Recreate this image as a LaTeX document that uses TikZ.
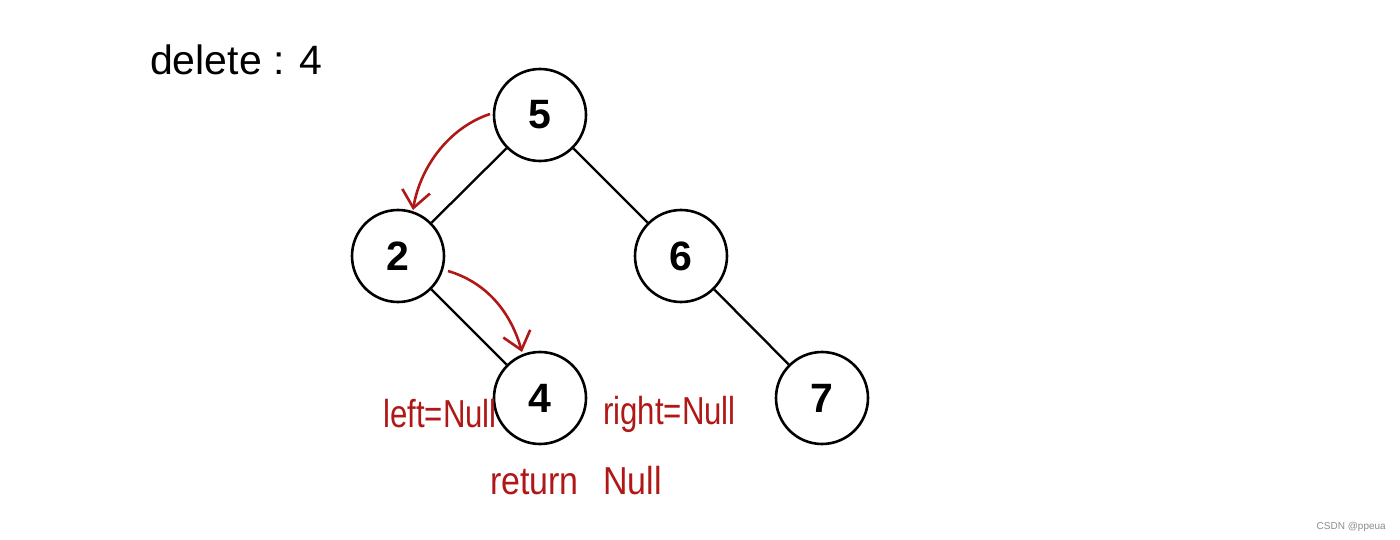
\documentclass[tikz,border=0pt]{standalone}
\usepackage{fontspec}
\usepackage{graphicx}
\setmainfont{Liberation Sans}
\usetikzlibrary{arrows.meta}
\definecolor{pen}{HTML}{B01818}
\newcommand{\pentext}[2][0.8]{\scalebox{#1}[1]{#2}}
\begin{document}
\begin{tikzpicture}[x=1pt,y=-1pt,
  tnode/.style={circle,draw=black,line width=2.6pt,minimum size=92pt,inner sep=0pt,font=\fontsize{41}{41}\selectfont\bfseries},
  tedge/.style={line width=2.3pt,black},
  redarrow/.style={line width=2.6pt,pen,-{Straight Barb[length=17pt,width=28pt,line width=2.6pt]}},
  redtext/.style={pen,font=\fontsize{39}{39}\selectfont,inner sep=0pt}]
\useasboundingbox (0,0) rectangle (1400,540);
\node[tnode] (n5) at (540,115) {5};
\node[tnode] (n2) at (398,256) {2};
\node[tnode] (n6) at (681,256) {6};
\node[tnode] (n4) at (540,398) {4};
\node[tnode] (n7) at (822,398) {7};
\draw[tedge] (n5) -- (n2);
\draw[tedge] (n5) -- (n6);
\draw[tedge] (n2) -- (n4);
\draw[tedge] (n6) -- (n7);
\coordinate (a1s) at (490,114);
\coordinate (a1e) at (413,210);
\coordinate (a2s) at (448,271);
\coordinate (a2e) at (522,352);
\draw[redarrow] (a1s) .. controls (448,128) and (420,168) .. (a1e);
\draw[redarrow] (a2s) .. controls (485,282) and (510,310) .. (a2e);
\node[font=\fontsize{41}{41}\selectfont,anchor=west,inner sep=0pt] (title) at (150,60) {delete : 4};
\node[redtext,anchor=west] (lft) at (383,414) {\pentext{left=Null}};
\node[redtext,anchor=west] (rgt) at (603,414) {\pentext{right=Null}};
\node[redtext,anchor=west] (ret) at (490,481) {\pentext[0.87]{return\hspace{28pt}Null}};
\node[font=\fontsize{10}{10}\selectfont,text=black!45,anchor=east,inner sep=0pt] (wm) at (1386,527) {CSDN @ppeua};
\end{tikzpicture}
\end{document}
